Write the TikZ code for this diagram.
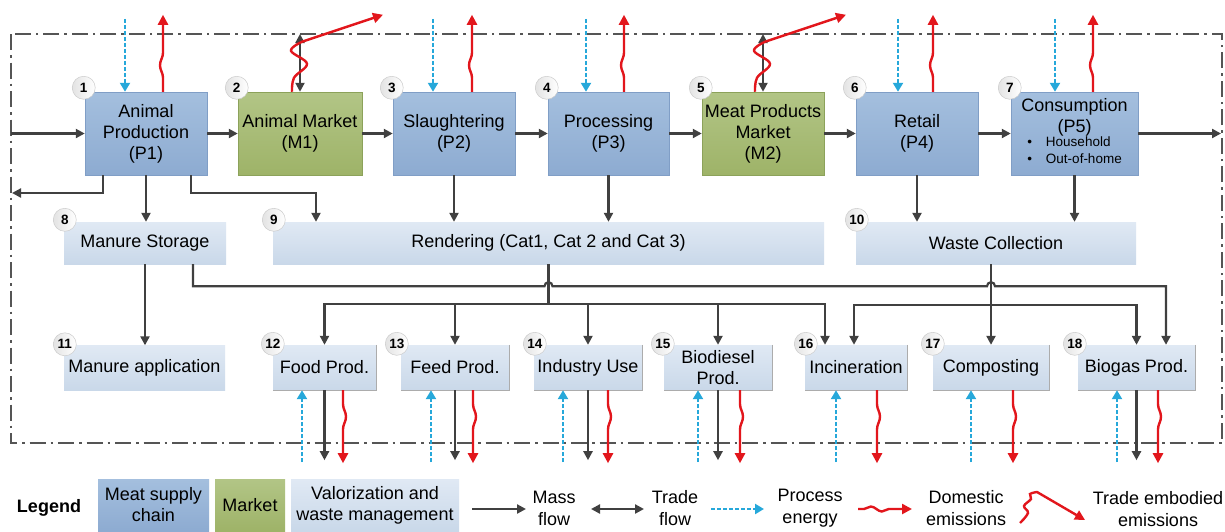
\documentclass[tikz,border=0pt]{standalone}
\usepackage{fontspec}
\setmainfont{Liberation Sans}
\usetikzlibrary{arrows.meta,decorations.pathmorphing,calc}

\definecolor{flowgray}{RGB}{64,64,64}
\definecolor{emitred}{RGB}{226,22,28}
\definecolor{energycyan}{RGB}{38,168,218}
\definecolor{chaintop}{RGB}{164,191,222}
\definecolor{chainbot}{RGB}{141,171,209}
\definecolor{chainedge}{RGB}{128,158,198}
\definecolor{markettop}{RGB}{178,197,134}
\definecolor{marketbot}{RGB}{158,179,104}
\definecolor{marketedge}{RGB}{140,162,90}
\definecolor{valtop}{RGB}{224,233,244}
\definecolor{valbot}{RGB}{201,216,233}
\definecolor{frameline}{RGB}{85,85,85}

\tikzset{
  boxtext/.style={font=\fontsize{18}{21}\selectfont, align=center, inner sep=0pt},
  chainbox/.style={boxtext, top color=chaintop, bottom color=chainbot, draw=chainedge, line width=0.5pt, minimum height=83pt},
  marketbox/.style={boxtext, top color=markettop, bottom color=marketbot, draw=marketedge, line width=0.5pt, minimum height=83pt},
  valbox/.style={boxtext, top color=valtop, bottom color=valbot},
  edgeline/.style={draw=gray!65, line width=0.8pt},
  numcirc/.style={circle, minimum size=23pt, inner sep=0pt, draw=gray!40, line width=0.5pt,
    left color=gray!22, right color=white, font=\fontsize{13.5}{13.5}\selectfont\bfseries},
  legtext/.style={font=\fontsize{18}{22}\selectfont, align=center, inner sep=0pt},
  flowline/.style={draw=flowgray, line width=2.2pt},
  mass/.style={flowline, -{Triangle[length=9pt,width=9pt]}},
  trade/.style={flowline, {Triangle[length=9pt,width=9pt]}-{Triangle[length=9pt,width=9pt]}},
  energy/.style={draw=energycyan, line width=2.6pt, dash pattern=on 4pt off 2pt, -{Triangle[length=9pt,width=10pt]}},
  domestic/.style={draw=emitred, line width=2.4pt, -{Triangle[length=10pt,width=10pt]}, decorate,
    decoration={snake, amplitude=3pt, segment length=40pt, pre length=14pt, post length=20pt}},
  embodied/.style={draw=emitred, line width=2.4pt, -{Triangle[length=10pt,width=10pt]}},
  boundary/.style={draw=frameline, line width=1.3pt, dash pattern=on 16pt off 5pt on 2.5pt off 5pt},
}

\begin{document}
\begin{tikzpicture}[x=1pt, y=-1pt]
\fill[white] (0,0) rectangle (1225,531);
\useasboundingbox (0,0) rectangle (1225,531);

% system boundary
\draw[boundary] (11,34) rectangle (1222,443);

% meat supply chain and markets
\node[chainbox, minimum width=122pt] (b1) at (146,133.5) {Animal\\Production\\(P1)};
\node[marketbox, minimum width=124pt] (b2) at (300,133.5) {Animal Market\\(M1)};
\node[chainbox, minimum width=122pt] (b3) at (454,133.5) {Slaughtering\\(P2)};
\node[chainbox, minimum width=121pt] (b4) at (608.5,133.5) {Processing\\(P3)};
\node[marketbox, minimum width=122pt] (b5) at (763,133.5) {Meat Products\\Market\\(M2)};
\node[chainbox, minimum width=122pt] (b6) at (917,133.5) {Retail\\(P4)};
\node[chainbox, minimum width=127pt] (b7) at (1074.5,133.5) {Consumption\\(P5)\\[-3pt]
  {\fontsize{13.5}{17}\selectfont\begin{tabular}{@{}l@{\hspace{14pt}}l@{}}\textbullet&Household\\\textbullet&Out-of-home\end{tabular}\hspace{6pt}}};

% collection and treatment
\node[valbox, minimum width=162pt, minimum height=42pt] (b8) at (145,243) {Manure Storage};
\node[valbox, minimum width=551pt, minimum height=42pt] (b9) at (548.5,243) {Rendering (Cat1, Cat 2 and Cat 3)};
\node[valbox, minimum width=280pt, minimum height=42pt] (b10) at (996,243) {Waste Collection};

% valorization and waste management
\node[valbox, minimum width=161pt, minimum height=45pt] (b11) at (144.5,368) {Manure application};
\node[valbox, minimum width=103pt, minimum height=45pt] (b12) at (324.5,367.5) {Food Prod.};
\node[valbox, minimum width=108pt, minimum height=45pt] (b13) at (455,367.5) {Feed Prod.};
\node[valbox, minimum width=108pt, minimum height=45pt] (b14) at (588,367.5) {Industry Use};
\node[valbox, minimum width=108pt, minimum height=45pt] (b15) at (718,367.5) {Biodiesel\\Prod.};
\node[valbox, minimum width=102pt, minimum height=45pt] (b16) at (856,367.5) {Incineration};
\node[valbox, minimum width=116pt, minimum height=45pt] (b17) at (991,367.5) {Composting};
\node[valbox, minimum width=117pt, minimum height=45pt] (b18) at (1136.5,367.5) {Biogas Prod.};
\foreach \b in {b12,b13,b14,b15,b16,b17,b18}
  \draw[edgeline] (\b.north east) -- (\b.south east) -- (\b.south west);

% main chain mass flows
\coordinate (inL) at (11,133.5);
\coordinate (outR) at (1221,133.5);
\coordinate (backL) at (12,193);
\coordinate (topB) at (0,34);
\draw[mass] (inL) -- (b1.west);
\foreach \a/\b in {b1/b2,b2/b3,b3/b4,b4/b5,b5/b6,b6/b7}
  \draw[mass] (\a.east) -- (\b.west);
\draw[mass] (b7.east) -- (outR);

% flows out of animal production
\draw[mass] ([xshift=-43pt]b1.south) |- (backL);
\draw[mass] (b1.south) -- (b1.south |- b8.north);
\draw[mass] ([xshift=45pt]b1.south) |- ([xshift=-232.5pt,yshift=29pt]b9.north) -- ([xshift=-232.5pt]b9.north);

% by-products and waste
\draw[mass] (b3.south) -- (b3.south |- b9.north);
\draw[mass] (b4.south) -- (b4.south |- b9.north);
\draw[mass] (b6.south) -- (b6.south |- b10.north);
\draw[mass] (b7.south) -- (b7.south |- b10.north);
\draw[mass] (b8.south) -- (b8.south |- b11.north);

% manure to biogas, hopping over the two risers
\path (b9.south) ++(0,-22pt) coordinate (hopA);
\path (b17.north |- b10.south) ++(0,-22pt) coordinate (hopB);
\draw[mass] ([xshift=48pt]b8.south) |- ([xshift=-4pt]hopA)
  arc[start angle=180,end angle=0,radius=4pt] -- ([xshift=-4pt]hopB)
  arc[start angle=180,end angle=0,radius=4pt] -| ([xshift=29.5pt]b18.north);

% rendering outputs
\path (b9.south) ++(0,-40pt) coordinate (rb);
\draw[flowline] (b9.south) -- (rb);
\foreach \t/\s in {b12/0,b13/0,b14/0,b15/0,b16/-31}
  \draw[mass] (rb) -| ([xshift=\s pt]\t.north);

% waste collection outputs
\draw[mass] (b17.north |- b10.south) -- (b17.north);
\path (b17.north |- b10.south) ++(0,-41pt) coordinate (wb);
\draw[mass] (wb) -| ([xshift=-2pt]b16.north);
\draw[mass] (wb) -| (b18.north);

% trade across the boundary
\draw[trade] (b2.north) -- (b2.north |- topB);
\draw[trade] (b5.north) -- (b5.north |- topB);
\foreach \b in {b2,b5}
  \draw[embodied] plot[smooth, tension=0.6] coordinates {([xshift=-8pt]\b.north) ([xshift=-6pt,yshift=14pt]\b.north)
    ([xshift=7pt,yshift=28pt]\b.north) ([xshift=-9pt,yshift=41pt]\b.north) ([xshift=2pt,yshift=50pt]\b.north)}
    -- ([xshift=83pt,yshift=77pt]\b.north);

% energy in and emissions out, supply chain
\foreach \b/\ce/\re in {b1/-21/17, b3/-21/18, b4/-22.5/15.5, b6/-19/16, b7/-19.5/18.5} {
  \draw[energy] ([xshift=\ce pt,yshift=73pt]\b.north) -- ([xshift=\ce pt]\b.north);
  \draw[domestic] ([xshift=\re pt]\b.north) -- ++(0,77pt);
}

% energy in, products and emissions out, valorization
\foreach \b/\ce/\re/\k in {b12/-22.5/18.5/1, b13/-24/18/1, b14/-25/20/1, b15/-20/22/1, b16/-20/21/0, b17/-20/22/0, b18/-19.5/21.5/1} {
  \draw[energy] ([xshift=\ce pt,yshift=-72pt]\b.south) -- ([xshift=\ce pt]\b.south);
  \draw[domestic] ([xshift=\re pt]\b.south) -- ++(0,-73pt);
  \ifnum\k=1 \draw[mass] (\b.south) -- ++(0,-70pt); \fi
}

% step numbers
\foreach \b/\n in {b1/1,b2/2,b3/3,b4/4,b5/5,b6/6,b7/7}
  \node[numcirc] (n\n) at ([shift={(-1pt,4pt)}]\b.north west) {\n};
\foreach \b/\n in {b8/8,b9/9,b10/10}
  \node[numcirc] (n\n) at ([shift={(1pt,2pt)}]\b.north west) {\n};
\foreach \b/\n/\s in {b11/11/1,b12/12/0,b13/13/-4,b14/14/1,b15/15/-1,b16/16/1,b17/17/0,b18/18/-3}
  \node[numcirc] (n\n) at ([shift={(\s pt,1pt)}]\b.north west) {\n};

% legend
\node[font=\fontsize{18}{21}\selectfont\bfseries] (lg) at (49,508) {Legend};
\node[chainbox, draw=none, minimum width=111pt, minimum height=52pt] (lg1) at (153.5,505) {Meat supply\\chain};
\node[marketbox, draw=none, minimum width=70pt, minimum height=52pt] (lg2) at (250,505) {Market};
\node[valbox, minimum width=168pt, minimum height=52pt] (lg3) at (375,505) {Valorization and\\waste management};

\coordinate (lmA) at (472,509); \coordinate (lmB) at (526,509);
\draw[mass] (lmA) -- (lmB);
\node[legtext] (lt1) at (554,508) {Mass\\flow};
\coordinate (ltA) at (591,509); \coordinate (ltB) at (644,509);
\draw[trade] (ltA) -- (ltB);
\node[legtext] (lt2) at (675,508) {Trade\\flow};
\coordinate (leA) at (711,509); \coordinate (leB) at (764,509);
\draw[energy] (leA) -- (leB);
\node[legtext] (lt3) at (810,508) {Process\\energy};
\coordinate (ldA) at (858,509); \coordinate (ldB) at (912,509);
\draw[domestic, decoration={snake, amplitude=2.5pt, segment length=22pt, pre length=6pt, post length=14pt}] (ldA) -- (ldB);
\node[legtext] (lt4) at (966,508) {Domestic\\emissions};
\coordinate (lxB) at (1085,520);
\draw[embodied] plot[smooth, tension=0.6] coordinates {(1020,523) (1028,513) (1024,506) (1031,499) (1030,494) (1037,492)} -- (lxB);
\node[legtext] (lt5) at (1158,509) {Trade embodied\\emissions};
\end{tikzpicture}
\end{document}
